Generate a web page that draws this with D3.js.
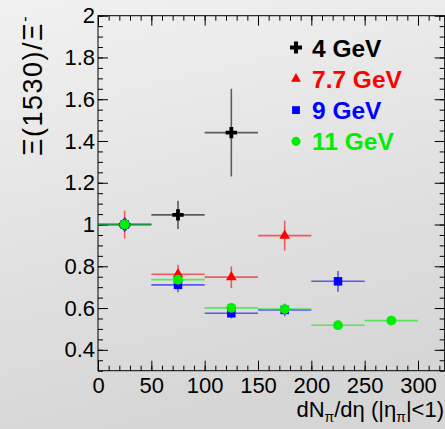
<!DOCTYPE html>
<html>
<head>
<meta charset="utf-8">
<script src="https://cdn.jsdelivr.net/npm/d3@7"></script>
<style>
  html, body { margin: 0; padding: 0; background: #e4e4e4; }
  svg { display: block; }
  text { font-family: "Liberation Sans", Arial, Helvetica, sans-serif; }
</style>
</head>
<body>
<svg id="chart" width="445" height="429"></svg>
<script>
// Bin centres and half-widths in dN/dη
const binCenters = [25, 75, 125, 175, 225, 275];
const binHalfWidth = 25;

// Ξ(1530)/Ξ ratios, normalised to the first bin, with vertical errors
const gev4Values   = [1.0, 1.046, 1.44];
const gev4Errors   = [0.0, 0.068, 0.21];
const gev77Values  = [1.0, 0.762, 0.748, 0.947];
const gev77Errors  = [0.067, 0.045, 0.052, 0.072];
const gev9Values   = [1.0, 0.711, 0.575, 0.591, 0.728];
const gev9Errors   = [0.035, 0.035, 0.025, 0.03, 0.05];
const gev11Values  = [1.0, 0.736, 0.601, 0.595, 0.518, 0.54];
const gev11Errors  = [0.02, 0.02, 0.02, 0.02, 0.015, 0.015];

const seriesNames  = ["4 GeV", "7.7 GeV", "9 GeV", "11 GeV"];
const seriesColors = ["#000000", "#ff0000", "#0000ff", "#00ee00"];
const seriesMarkers = ["cross", "triangle", "square", "circle"];

const xTickValues = [0, 50, 100, 150, 200, 250, 300];
const yTickValues = [0.4, 0.6, 0.8, 1.0, 1.2, 1.4, 1.6, 1.8, 2.0];

const series = [
  { values: gev4Values,  errors: gev4Errors },
  { values: gev77Values, errors: gev77Errors },
  { values: gev9Values,  errors: gev9Errors },
  { values: gev11Values, errors: gev11Errors }
].map((s, i) => ({
  name: seriesNames[i],
  color: seriesColors[i],
  marker: seriesMarkers[i],
  points: s.values.map((v, j) => ({ x: binCenters[j], y: v, ey: s.errors[j] }))
}));

const svg = d3.select("#chart");
const W = 445, H = 429;

// Soft grey canvas gradient
const defs = svg.append("defs");
const grad = defs.append("linearGradient").attr("id", "bg")
  .attr("x1", "0").attr("y1", "0").attr("x2", "0.25").attr("y2", "1");
grad.append("stop").attr("offset", "0%").attr("stop-color", "#f1f1f1");
grad.append("stop").attr("offset", "100%").attr("stop-color", "#d6d6d6");
svg.append("rect").attr("width", W).attr("height", H).attr("fill", "url(#bg)");

const plotLeft = 98, plotTop = 15.7, plotBottom = 370.7;
const x = d3.scaleLinear().domain([0, 325]).range([plotLeft, plotLeft + 325 * 320 / 300]);
const y = d3.scaleLinear().domain([0.3, 2]).range([plotBottom, plotTop]);
const plotRight = x.range()[1];

const fmt = d => d3.format("~g")(d);

// Axes: major ticks with labels, minor ticks without, all drawn inside the frame
function styleAxis(g) {
  g.select(".domain").remove();
  g.selectAll(".tick line").attr("stroke", "#000").attr("stroke-width", 1);
  g.selectAll(".tick text").attr("fill", "#000").style("font-size", "22px");
}
const xMinor = d3.range(0, 326, 10);
const yMinor = d3.range(0.3, 2.0001, 0.05).map(v => +v.toFixed(2));

svg.append("g").attr("transform", `translate(0,${plotBottom})`)
  .call(d3.axisBottom(x).tickValues(xTickValues).tickFormat(fmt).tickSize(-10).tickPadding(7))
  .call(styleAxis);
svg.append("g").attr("transform", `translate(0,${plotBottom})`)
  .call(d3.axisBottom(x).tickValues(xMinor).tickFormat("").tickSize(-5)).call(styleAxis);
svg.append("g").attr("transform", `translate(0,${plotTop})`)
  .call(d3.axisTop(x).tickValues(xTickValues).tickFormat("").tickSize(-10)).call(styleAxis);
svg.append("g").attr("transform", `translate(0,${plotTop})`)
  .call(d3.axisTop(x).tickValues(xMinor).tickFormat("").tickSize(-5)).call(styleAxis);

svg.append("g").attr("transform", `translate(${plotLeft},0)`)
  .call(d3.axisLeft(y).tickValues(yTickValues).tickFormat(fmt).tickSize(-10).tickPadding(3))
  .call(styleAxis);
svg.append("g").attr("transform", `translate(${plotLeft},0)`)
  .call(d3.axisLeft(y).tickValues(yMinor).tickFormat("").tickSize(-5)).call(styleAxis);
svg.append("g").attr("transform", `translate(${plotRight},0)`)
  .call(d3.axisRight(y).tickValues(yTickValues).tickFormat("").tickSize(-10)).call(styleAxis);
svg.append("g").attr("transform", `translate(${plotRight},0)`)
  .call(d3.axisRight(y).tickValues(yMinor).tickFormat("").tickSize(-5)).call(styleAxis);

// Frame
svg.append("rect")
  .attr("x", plotLeft).attr("y", plotTop)
  .attr("width", plotRight - plotLeft).attr("height", plotBottom - plotTop)
  .attr("fill", "none").attr("stroke", "#000").attr("stroke-width", 1);

// Axis titles
const xTitle = svg.append("text")
  .attr("x", 444).attr("y", 417).attr("text-anchor", "end")
  .style("font-size", "22px").attr("fill", "#000");
xTitle.append("tspan").text("dN");
xTitle.append("tspan").text("π").style("font-size", "14px").attr("dy", 5);
xTitle.append("tspan").text("/dη (|η").attr("dy", -5);
xTitle.append("tspan").text("π").style("font-size", "14px").attr("dy", 5);
xTitle.append("tspan").text("|<1)").attr("dy", -5);

const yTitle = svg.append("text")
  .attr("transform", "translate(42,15) rotate(-90)")
  .attr("text-anchor", "end")
  .style("font-size", "27px").style("letter-spacing", "1.5px").attr("fill", "#000");
yTitle.append("tspan").text("Ξ(1530)/Ξ");
yTitle.append("tspan").text("-").style("font-size", "16px").attr("dy", -12);

// Marker shapes
const symbolTypes = {
  cross: d3.symbolCross, triangle: d3.symbolTriangle,
  square: d3.symbolSquare, circle: d3.symbolCircle
};
const symbolSizes = { cross: 72, triangle: 50, square: 72, circle: 76 };

// Data: error bars then markers, series layered in order
series.forEach(s => {
  const g = svg.append("g");
  const eb = g.selectAll("g.pt").data(s.points).join("g").attr("class", "pt");
  eb.append("line")
    .attr("x1", d => x(d.x - binHalfWidth)).attr("x2", d => x(d.x + binHalfWidth))
    .attr("y1", d => y(d.y)).attr("y2", d => y(d.y))
    .attr("stroke", s.color).attr("stroke-opacity", 0.6).attr("stroke-width", 1.6);
  eb.filter(d => d.ey > 0).append("line")
    .attr("x1", d => x(d.x)).attr("x2", d => x(d.x))
    .attr("y1", d => y(d.y - d.ey)).attr("y2", d => y(d.y + d.ey))
    .attr("stroke", s.color).attr("stroke-opacity", 0.6).attr("stroke-width", 1.6);
  eb.append("path")
    .attr("d", d3.symbol().type(symbolTypes[s.marker]).size(symbolSizes[s.marker]))
    .attr("transform", d => `translate(${x(d.x)},${y(d.y)})`)
    .attr("fill", s.color);
});

// Legend
const legend = svg.append("g");
series.forEach((s, i) => {
  const cy = 47.5 + i * 31.3;
  legend.append("path")
    .attr("d", d3.symbol().type(symbolTypes[s.marker]).size(s.marker === "cross" ? 80 : symbolSizes[s.marker] * 0.85))
    .attr("transform", `translate(296,${cy})`)
    .attr("fill", s.color);
  legend.append("text")
    .attr("x", 312).attr("y", cy + 9)
    .style("font-size", "24.5px").style("font-weight", "bold")
    .attr("fill", s.color).text(s.name);
});
</script>
</body>
</html>
